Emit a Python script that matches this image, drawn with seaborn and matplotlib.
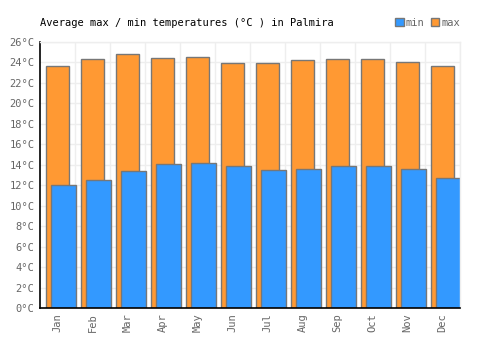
import numpy as np
import pandas as pd
import matplotlib
matplotlib.use("Agg")
import matplotlib.pyplot as plt
import seaborn as sns
from matplotlib.patches import Patch

# data
months = ['Jan', 'Feb', 'Mar', 'Apr', 'May', 'Jun', 'Jul', 'Aug', 'Sep', 'Oct', 'Nov', 'Dec']
t_max = [23.7, 24.3, 24.8, 24.4, 24.5, 23.9, 23.9, 24.2, 24.3, 24.3, 24.0, 23.7]
t_min = [12.0, 12.5, 13.4, 14.1, 14.2, 13.85, 13.5, 13.6, 13.85, 13.85, 13.6, 12.7]
y_ticks = list(range(0, 27, 2))

blue = '#3399ff'
orange = '#ff9933'
edge = '#777777'
grey = '#666666'

df = pd.DataFrame({'month': months, 'max': t_max, 'min': t_min})
df['idx'] = np.arange(len(months))
df['idx_min'] = df['idx'] + 0.17  # min bars sit shifted to the right

sns.set_style('white')
plt.rcParams['font.family'] = ['DejaVu Sans Mono']

fig = plt.figure(figsize=(5, 3.5), dpi=100)
ax = fig.add_axes([0.08, 0.12, 0.84, 0.76])

# grid first, behind the bars
ax.set_axisbelow(True)
for y in y_ticks:
    ax.axhline(y, color='#eeeeee', lw=1, zorder=0)
for x in np.arange(0.5, 12, 1):
    ax.axvline(x, color='#eeeeee', lw=1, zorder=0)

sns.barplot(data=df, x='idx', y='max', native_scale=True, width=0.66,
            color=orange, saturation=1, edgecolor=edge, linewidth=1, ax=ax)
sns.barplot(data=df, x='idx_min', y='min', native_scale=True, width=0.70,
            color=blue, saturation=1, edgecolor=edge, linewidth=1, ax=ax)

ax.set_xlim(-0.5, 11.5)
ax.set_ylim(0, 26)
ax.set_yticks(y_ticks)
ax.set_yticklabels([f'{v}°C' for v in y_ticks])
ax.set_xticks(df['idx'])
ax.set_xticklabels(months, rotation=90, rotation_mode='anchor',
                   ha='right', va='center')
ax.tick_params(axis='both', labelsize=7.5, colors=grey, length=0, pad=4)
ax.set_xlabel('')
ax.set_ylabel('')

for s in ['top', 'right']:
    ax.spines[s].set_color('#eeeeee')
    ax.spines[s].set_linewidth(1)
for s in ['left', 'bottom']:
    ax.spines[s].set_color('black')
    ax.spines[s].set_linewidth(1.2)

fig.text(0.08, 0.935, 'Average max / min temperatures (°C ) in Palmira',
         fontsize=7.5, color='black', va='center', ha='left')

handles = [Patch(facecolor=blue, edgecolor=edge, label='min'),
           Patch(facecolor=orange, edgecolor=edge, label='max')]
fig.legend(handles=handles, loc='center right', bbox_to_anchor=(0.92, 0.935),
           ncol=2, frameon=False, fontsize=7.5, labelcolor=grey,
           handlelength=0.8, handleheight=0.8, handletextpad=0.2,
           columnspacing=0.6, borderpad=0, borderaxespad=0)

fig.savefig('out.png', dpi=100)
